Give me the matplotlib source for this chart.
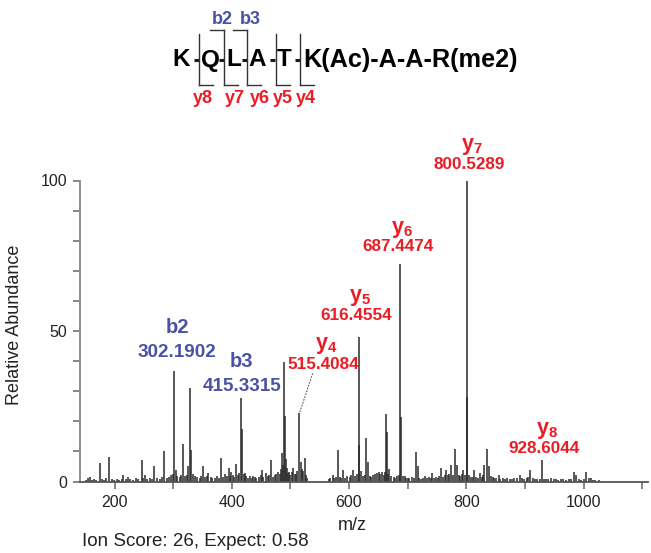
import matplotlib
matplotlib.use("Agg")
import matplotlib.pyplot as plt
from matplotlib.ticker import MultipleLocator, FixedLocator

# ---- data ----
ion_names = ["b2", "b3", "y4", "y5", "y6", "y7", "y8"]
ion_mz = [302.1902, 415.3315, 515.4084, 616.4554, 687.4474, 800.5289, 928.6044]
ion_int = [36.6, 27.6, 22.7, 47.9, 72.1, 100.0, 7.1]

# unlabelled peaks (m/z, relative abundance)
other_peaks = [
    (152, 0.6), (155, 1.2), (158, 1.4), (161, 0.5), (165, 0.7), (169, 0.4), (175, 6.3),
    (178, 0.8), (182, 0.6), (186, 1.0), (191, 8.0), (195, 0.7), (199, 0.5), (204, 0.9),
    (208, 0.6), (212, 0.8), (215, 2.2), (219, 0.7), (223, 1.4), (227, 0.9), (231, 0.6),
    (236, 1.1), (240, 0.8), (246, 7.0), (249, 1.0), (252, 2.2), (256, 0.9), (260, 1.2),
    (264, 0.7), (268, 5.0), (272, 1.3), (277, 0.9), (281, 1.5), (285, 10.0), (289, 1.1),
    (293, 1.6), (297, 2.0), (300, 2.5), (304, 3.9), (307, 1.8), (311, 1.4), (314, 2.0),
    (317, 12.3), (320, 1.7), (323, 2.2), (326, 5.0), (329.5, 31.0), (331, 10.5), (334, 2.6),
    (337, 1.9), (341, 1.5), (345, 1.2), (348, 1.8), (351, 5.2), (355, 1.4), (358, 1.9),
    (360, 2.8), (364, 1.5), (367, 1.1), (371, 1.3), (375, 1.9), (378, 1.2), (381.5, 7.8),
    (385, 1.6), (388, 2.5), (391, 1.8), (394.6, 4.4), (397, 1.7), (399, 3.3), (402, 2.0),
    (404, 1.6), (407.7, 5.9), (411, 2.2), (413, 2.9), (417, 17.3), (420, 2.4), (422, 2.8),
    (425, 1.7), (428, 1.3), (431, 1.9), (434, 1.2), (436, 1.8), (439, 1.5), (442, 1.0),
    (446, 1.6), (449, 2.1), (451.5, 3.9), (454, 1.4), (458, 2.8), (461, 1.7), (464, 2.2),
    (467.4, 7.0), (470, 1.6), (473, 2.0), (476, 2.6), (479, 3.1), (482, 2.4), (484, 4.0),
    (485.6, 9.4), (487, 5.5), (489.5, 39.8), (490.5, 21.8), (492.5, 7.4), (494, 4.5),
    (496, 2.8), (497, 3.3), (499, 2.2), (502, 3.0), (505, 4.4), (507, 2.6), (510, 2.5),
    (512, 3.4), (518, 6.6), (520, 4.2), (522, 3.6), (524, 7.8), (527, 2.0), (529, 1.2),
    (565, 0.8), (568, 1.0), (572.6, 2.2), (575, 1.2), (578, 1.5), (580.6, 10.3), (584, 1.4),
    (587, 1.1), (590, 3.9), (593, 1.3), (597, 1.8), (601, 1.5), (604, 2.0), (607, 3.9),
    (610, 1.9), (613, 2.6), (617.5, 12.2), (621, 3.5), (624, 1.7), (627, 2.1), (629.5, 14.5),
    (632, 6.4), (635, 1.9), (638, 1.5), (641, 2.0), (644, 2.4), (647, 2.8), (650.5, 3.3),
    (653, 2.6), (656, 3.3), (659, 2.2), (661, 3.0), (663, 22.5), (664.5, 16.4), (667, 2.4),
    (669, 4.0), (672, 1.8), (676, 1.6), (679, 1.3), (682, 1.9), (685, 2.2), (688.5, 21.4),
    (692, 1.7), (695, 1.9), (698, 1.2), (701, 1.0), (703, 1.3), (707, 1.4), (710, 1.1),
    (714.8, 9.7), (717, 5.0), (720, 1.3), (723, 0.9), (726, 1.2), (729, 1.7), (733, 1.0),
    (736, 1.4), (739, 1.2), (742, 2.8), (745, 1.3), (748, 1.6), (751, 1.1), (754, 1.9),
    (757.5, 4.4), (761, 1.5), (763, 2.0), (766, 3.9), (769, 2.1), (771, 2.6), (774, 5.5),
    (777, 2.3), (781.4, 10.8), (784, 5.5), (787, 2.2), (790, 1.9), (793, 2.5), (795, 3.9),
    (798, 2.2), (801.5, 28.0), (805, 2.0), (808, 1.6), (811, 1.4), (814, 3.9), (817, 1.5),
    (820, 1.2), (823, 2.8), (826, 1.6), (828, 2.0), (831, 5.5), (835.5, 10.8), (838, 5.0),
    (842, 1.8), (845, 1.4), (848, 1.1), (851, 1.3), (855, 2.2), (858, 0.9), (862, 1.1),
    (866, 0.8), (870, 1.1), (874, 0.7), (878, 0.9), (882, 1.2), (887, 1.0), (891, 2.2),
    (895, 1.0), (899, 0.8), (903, 1.1), (906, 1.4), (909.4, 3.9), (913, 1.0), (917, 0.8),
    (921, 0.7), (925, 0.9), (932, 0.8), (936, 0.7), (940, 0.9), (945, 1.2), (949, 0.7),
    (953, 0.8), (957, 0.6), (961, 0.7), (965, 0.9), (970, 0.6), (975, 0.8), (979, 0.9),
    (983, 3.3), (988, 2.0), (992, 0.7), (996, 0.6), (1000, 0.8), (1005, 3.1), (1009, 1.0),
    (1012, 1.0), (1016, 0.5), (1020, 0.6), (1026, 0.4), (1032, 0.3),
]

residues = ["K", "Q", "L", "A", "T"]
tail = "K(Ac)-A-A-R(me2)"
b_labels = ["b2", "b3"]
y_labels = ["y8", "y7", "y6", "y5", "y4"]
score_text = "Ion Score: 26, Expect: 0.58"

BLUE = "#4a53a3"
RED = "#ec1c24"
FONT = "Liberation Sans"
plt.rcParams.update({"font.family": FONT, "mathtext.fontset": "custom",
                     "mathtext.rm": FONT, "mathtext.bf": FONT + ":bold",
                     "mathtext.it": FONT + ":bold"})

fig = plt.figure(figsize=(6.51, 5.53), dpi=100)
W, H = 651, 553
ax = fig.add_axes([80 / W, 1 - 481.5 / H, 568 / W, 301 / H])

# peaks
mz_all = [p[0] for p in other_peaks] + ion_mz
h_all = [p[1] for p in other_peaks] + ion_int
ax.vlines(mz_all, 0, h_all, color="#2a2a2a", lw=1.1, clip_on=False)

ax.set_xlim(141, 1110)
ax.set_ylim(0, 100)
for s in ("top", "right"):
    ax.spines[s].set_visible(False)
ax.spines["left"].set_color("#888888")
ax.spines["left"].set_linewidth(1.3)
ax.spines["bottom"].set_color("#555555")
ax.spines["bottom"].set_linewidth(1.3)

ax.yaxis.set_major_locator(FixedLocator([0, 50, 100]))
ax.yaxis.set_minor_locator(MultipleLocator(10))
ax.xaxis.set_major_locator(FixedLocator([200, 400, 600, 800, 1000]))
ax.xaxis.set_minor_locator(FixedLocator(list(range(300, 1101, 200))))
ax.tick_params(axis="both", which="both", direction="out", length=5, width=1.1,
               color="#666666", labelsize=11.5, labelcolor="#222222")
ax.tick_params(axis="y", pad=4)
ax.tick_params(axis="x", pad=5)

ax.set_ylabel("Relative Abundance", fontsize=13, color="#222222")
ax.yaxis.set_label_coords(-0.100, 0.52)
ax.set_xlabel("m/z", fontsize=13, color="#222222")
ax.xaxis.set_label_coords(0.479, -0.118)

# peak annotations: (name x, name y, mass x, mass y) in data units
lab_pos = {
    "b2": (306.6, 51.0, 306.6, 42.9),
    "b3": (417.0, 39.8, 417.0, 31.7),
    "y4": (561.3, 45.3, 555.6, 39.0),
    "y5": (619.3, 61.0, 612.1, 55.2),
    "y6": (690.4, 83.6, 684.1, 78.0),
    "y7": (809.6, 111.2, 805.3, 105.2),
    "y8": (938.4, 17.1, 933.3, 11.1),
}
for name, mz in zip(ion_names, ion_mz):
    nx, ny, mx, my = lab_pos[name]
    if name.startswith("b"):
        col, fs, nfs, txt = BLUE, 13.6, 14.5, name
    else:
        col, fs, nfs, txt = RED, 12.3, 15.5, r"$\mathbf{y_{%s}}$" % name[1:]
    ax.text(nx, ny, txt, color=col, fontsize=nfs, fontweight="bold",
            ha="center", va="center", clip_on=False)
    ax.text(mx, my, "%.4f" % mz, color=col, fontsize=fs, fontweight="bold",
            ha="center", va="center", clip_on=False)

# dashed leader for y4
i4 = ion_names.index("y4")
ax.plot([537.9, ion_mz[i4]], [35.9, ion_int[i4]], color="#555555", lw=0.8,
        ls=(0, (1.5, 1.2)), clip_on=False)

# ---- header: peptide fragment map (pixel coordinates) ----
hdr = fig.add_axes([0, 0, 1, 1], zorder=-1)
hdr.set_xlim(0, W)
hdr.set_ylim(H, 0)
hdr.axis("off")

res_x = [181.5, 210.5, 234.0, 257.5, 284.5]
cut_x = [199.0, 224.0, 247.3, 275.7, 300.0]
base_y = 66.5
for r, x in zip(residues, res_x):
    hdr.text(x, base_y, r, fontsize=17.5, fontweight="bold", ha="center", va="baseline")
# hyphens sit just left of each cleavage line
for x in cut_x:
    hdr.plot([x - 5.5, x - 0.5], [59.5, 59.5], color="#1a1a1a", lw=2.2,
             solid_capstyle="butt")
hdr.text(303.5, base_y, tail, fontsize=18.2, fontweight="bold", ha="left", va="baseline")

for i, x in enumerate(cut_x):
    top = 30 if i in (1, 2) else 34
    hdr.plot([x, x], [top, 85], color="#333333", lw=1.0)
    hdr.plot([x, x + 14], [85, 85], color="#333333", lw=1.0)
    if i in (1, 2):
        hdr.plot([x - 14, x], [30, 30], color="#333333", lw=1.0)

for t, x in zip(b_labels, [222.0, 250.8]):
    hdr.text(x, 19.5, t, color=BLUE, fontsize=13, fontweight="bold", ha="center", va="center")
for t, x in zip(y_labels, [202.5, 235.0, 260.3, 283.3, 305.8]):
    hdr.text(x, 98.5, t, color=RED, fontsize=13, fontweight="bold", ha="center", va="center")

fig.text(82 / W, 1 - 541 / H, score_text, fontsize=13.5, color="#222222",
         ha="left", va="center")

fig.savefig("out.png", dpi=100)
